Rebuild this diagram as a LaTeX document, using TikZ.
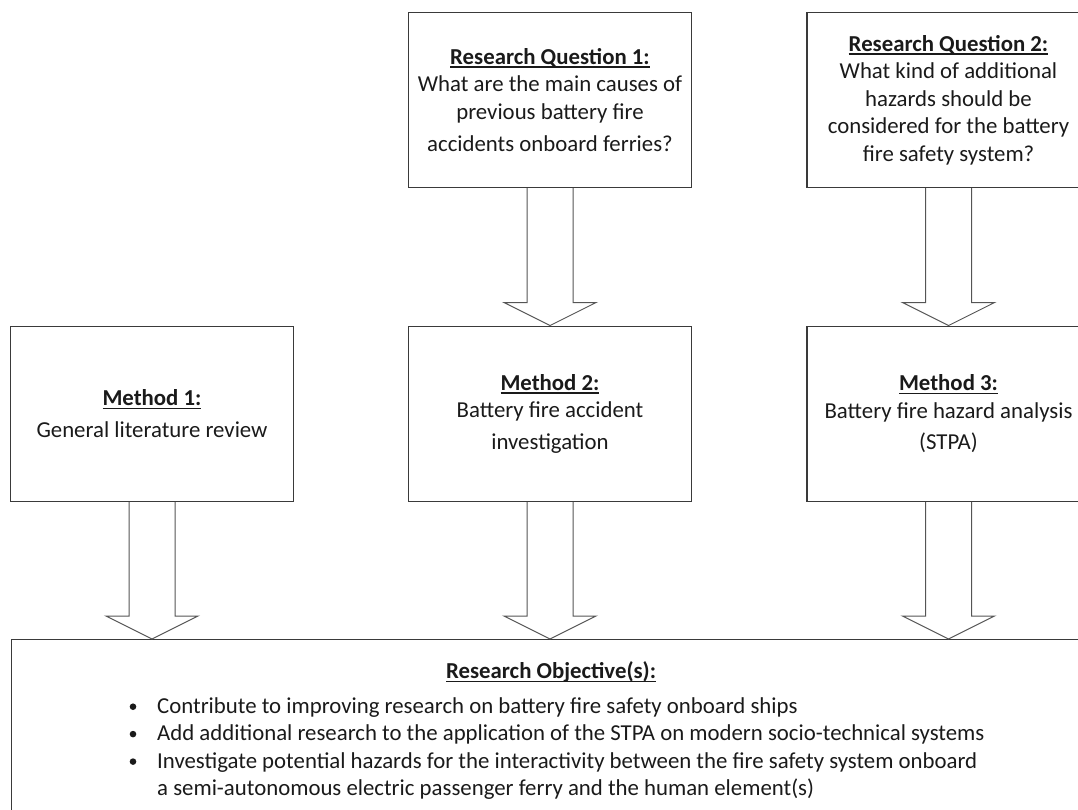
\documentclass[tikz,border=0pt]{standalone}
\usepackage{fontspec}
\setmainfont{Carlito}
\usetikzlibrary{calc}
\definecolor{ink}{HTML}{1A1A1A}
\definecolor{frame}{HTML}{3A3A3A}
\definecolor{arrowline}{HTML}{555555}
% bold heading with an underline at a fixed depth
\newsavebox{\hlbox}
\newcommand{\headline}[1]{\sbox{\hlbox}{\textbf{#1}}%
  \rlap{\rule[-3.4pt]{\wd\hlbox}{1.3pt}}\usebox{\hlbox}}
% hollow block arrow from the bottom of one box to a point on the next box
\newcommand{\fatarrow}[2]{%
  \draw[blockarrow] ($(#1)+(-23,0)$) -- ($(#2)+(-23,-23)$) -- ($(#2)+(-46,-23)$)
    -- (#2) -- ($(#2)+(46,-23)$) -- ($(#2)+(23,-23)$) -- ($(#1)+(23,0)$);}
\begin{document}
\begin{tikzpicture}[x=1pt,y=-1pt,
  box/.style={draw=frame, line width=1.3pt, minimum width=283pt, minimum height=175pt,
    align=center, inner sep=0pt, text=ink, font=\fontsize{22.8}{27.5}\selectfont},
  txt/.style={inner sep=0pt, text=ink, font=\fontsize{22.8}{27}\selectfont},
  blockarrow/.style={draw=arrowline, line width=1pt, line join=miter}]
\useasboundingbox (0,0) rectangle (1078,809);
\clip (0,0) rectangle (1078,809);

% research questions
\node[box] (rq1) at (550,100) {\headline{Research Question 1:}\\
  What are the main causes of\\ previous battery fire\\[5pt] accidents onboard ferries?};
\node[box] (rq2) at (948.5,100) {\headline{Research Question 2:}\\
  What kind of additional\\ hazards should be\\ considered for the battery\\ fire safety system?};

% methods
\node[box] (m1) at (152,413.7) {\headline{Method 1:}\\[4pt] General literature review};
\node[box] (m2) at (550,413.7) {\headline{Method 2:}\\ Battery fire accident\\[4pt] investigation};
\node[box] (m3) at (948.5,413.7) {\headline{Method 3:}\\ Battery fire hazard analysis\\[4pt] (STPA)};

% objectives
\node[draw=frame, line width=1.3pt, anchor=north west, minimum width=1079pt,
  minimum height=220pt] (obj) at (11,639) {};
\node[txt, anchor=base] (objtitle) at ($(obj.north)+(0,39.5)$) {\headline{Research Objective(s):}};
\node[txt, anchor=base west] (o1) at (157,713.3) {Contribute to improving research on battery fire safety onboard ships};
\node[txt, anchor=base west] (o2) at (157,740.7) {Add additional research to the application of the STPA on modern socio-technical systems};
\node[txt, anchor=base west] (o3) at (157,768.2) {Investigate potential hazards for the interactivity between the fire safety system onboard};
\node[txt, anchor=base west] (o4) at (157,795.3) {a semi-autonomous electric passenger ferry and the human element(s)};
\foreach \y in {713.3,740.7,768.2} \fill[ink] (133,\y-6.6) circle (3.3pt);

% connectors
\fatarrow{rq1.south}{m2.north}
\fatarrow{rq2.south}{m3.north}
\fatarrow{m1.south}{m1.south |- obj.north}
\fatarrow{m2.south}{m2.south |- obj.north}
\fatarrow{m3.south}{m3.south |- obj.north}
\end{tikzpicture}
\end{document}
